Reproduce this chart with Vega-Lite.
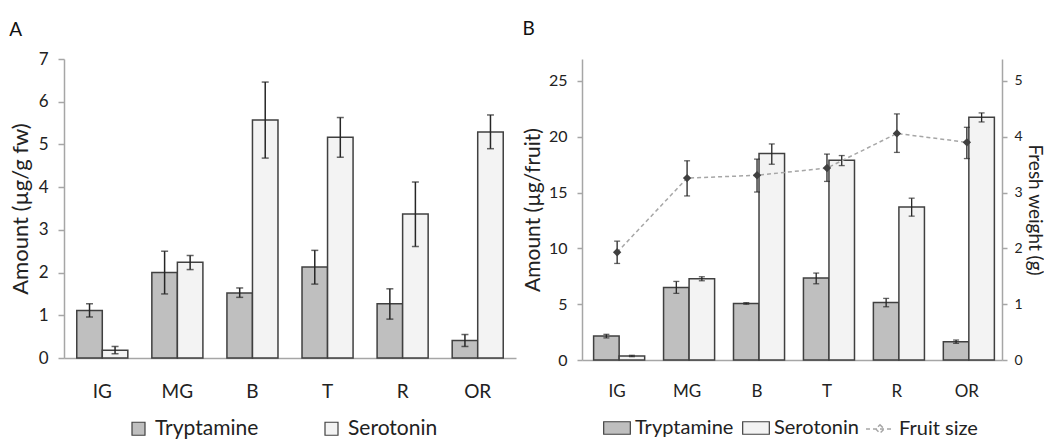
{
  "$schema": "https://vega.github.io/schema/vega-lite/v6.json",
  "background": "white",
  "padding": {"left": 9, "top": 20, "right": 0, "bottom": 0},
  "config": {
    "font": "Lato",
    "view": {"stroke": null},
    "axis": {"labelFont": "Lato", "titleFont": "Lato", "labelColor": "#222222", "titleColor": "#222222", "titleFontWeight": "normal", "grid": false, "domainColor": "#a6a6a6", "tickColor": "#a6a6a6", "domainWidth": 1.5, "tickWidth": 1.5},
    "legend": {"labelFont": "Lato", "labelColor": "#222222"},
    "title": {"font": "Lato", "fontWeight": "normal", "color": "#111111"}
  },
  "datasets": {
    "A": [
      {"stage": "IG", "compound": "Tryptamine", "value": 1.11, "lo": 0.96, "hi": 1.27},
      {"stage": "IG", "compound": "Serotonin", "value": 0.18, "lo": 0.10, "hi": 0.27},
      {"stage": "MG", "compound": "Tryptamine", "value": 2.0, "lo": 1.5, "hi": 2.5},
      {"stage": "MG", "compound": "Serotonin", "value": 2.24, "lo": 2.07, "hi": 2.4},
      {"stage": "B", "compound": "Tryptamine", "value": 1.52, "lo": 1.42, "hi": 1.64},
      {"stage": "B", "compound": "Serotonin", "value": 5.57, "lo": 4.68, "hi": 6.46},
      {"stage": "T", "compound": "Tryptamine", "value": 2.13, "lo": 1.73, "hi": 2.52},
      {"stage": "T", "compound": "Serotonin", "value": 5.17, "lo": 4.7, "hi": 5.63},
      {"stage": "R", "compound": "Tryptamine", "value": 1.27, "lo": 0.91, "hi": 1.62},
      {"stage": "R", "compound": "Serotonin", "value": 3.37, "lo": 2.61, "hi": 4.12},
      {"stage": "OR", "compound": "Tryptamine", "value": 0.41, "lo": 0.27, "hi": 0.55},
      {"stage": "OR", "compound": "Serotonin", "value": 5.29, "lo": 4.9, "hi": 5.69}
    ],
    "B": [
      {"stage": "IG", "compound": "Tryptamine", "value": 2.15, "lo": 1.98, "hi": 2.3},
      {"stage": "IG", "compound": "Serotonin", "value": 0.36, "lo": 0.3, "hi": 0.42},
      {"stage": "MG", "compound": "Tryptamine", "value": 6.5, "lo": 5.97, "hi": 7.04},
      {"stage": "MG", "compound": "Serotonin", "value": 7.28, "lo": 7.1, "hi": 7.46},
      {"stage": "B", "compound": "Tryptamine", "value": 5.07, "lo": 5.0, "hi": 5.14},
      {"stage": "B", "compound": "Serotonin", "value": 18.5, "lo": 17.54, "hi": 19.36},
      {"stage": "T", "compound": "Tryptamine", "value": 7.34, "lo": 6.83, "hi": 7.79},
      {"stage": "T", "compound": "Serotonin", "value": 17.9, "lo": 17.42, "hi": 18.32},
      {"stage": "R", "compound": "Tryptamine", "value": 5.16, "lo": 4.77, "hi": 5.52},
      {"stage": "R", "compound": "Serotonin", "value": 13.72, "lo": 12.89, "hi": 14.5},
      {"stage": "OR", "compound": "Tryptamine", "value": 1.64, "lo": 1.49, "hi": 1.79},
      {"stage": "OR", "compound": "Serotonin", "value": 21.75, "lo": 21.33, "hi": 22.14}
    ],
    "fruit": [
      {"stage": "IG", "series": "Fruit size", "weight": 1.93, "lo": 1.73, "hi": 2.13},
      {"stage": "MG", "series": "Fruit size", "weight": 3.26, "lo": 2.94, "hi": 3.57},
      {"stage": "B", "series": "Fruit size", "weight": 3.31, "lo": 3.01, "hi": 3.6},
      {"stage": "T", "series": "Fruit size", "weight": 3.44, "lo": 3.2, "hi": 3.69},
      {"stage": "R", "series": "Fruit size", "weight": 4.06, "lo": 3.72, "hi": 4.41},
      {"stage": "OR", "series": "Fruit size", "weight": 3.9, "lo": 3.61, "hi": 4.17}
    ]
  },
  "spacing": 6,
  "resolve": {"scale": {"fill": "independent", "strokeDash": "independent", "x": "independent", "y": "independent"}, "legend": {"fill": "independent", "strokeDash": "independent"}},
  "hconcat": [
    {
      "title": {"text": "A", "anchor": "start", "frame": "bounds", "fontSize": 19, "offset": 10},
      "width": 452,
      "height": 299,
      "data": {"name": "A"},
      "encoding": {
        "x": {"field": "stage", "type": "nominal", "sort": ["IG", "MG", "B", "T", "R", "OR"], "scale": {"paddingInner": 0.32, "paddingOuter": 0.17}, "axis": {"title": null, "labelAngle": 0, "ticks": false, "labelFontSize": 19, "labelPadding": 24}},
        "xOffset": {"field": "compound", "type": "nominal", "sort": ["Tryptamine", "Serotonin"], "scale": {"paddingInner": 0, "paddingOuter": 0}}
      },
      "layer": [
        {
          "mark": {"type": "bar", "stroke": "#404040", "strokeWidth": 1.5},
          "encoding": {
            "y": {"field": "value", "type": "quantitative", "scale": {"domain": [0, 7], "nice": false}, "axis": {"title": "Amount  (µg/g fw)", "values": [0, 1, 2, 3, 4, 5, 6, 7], "labelFontSize": 17, "titleFontSize": 22, "tickSize": 6, "labelPadding": 10, "titlePadding": 6}},
            "fill": {"field": "compound", "type": "nominal", "scale": {"domain": ["Tryptamine", "Serotonin"], "range": ["#bfbfbf", "#f3f3f3"]}, "legend": {"title": null, "orient": "none", "direction": "horizontal", "legendX": 64, "legendY": 359, "symbolType": "square", "symbolSize": 169, "symbolStrokeColor": "#404040", "symbolStrokeWidth": 1.2, "labelFontSize": 21, "labelOffset": 6, "columnPadding": 62}}
          }
        },
        {
          "mark": {"type": "rule", "color": "#262626", "strokeWidth": 1.5},
          "encoding": {
            "y": {"field": "lo", "type": "quantitative"},
            "y2": {"field": "hi"}
          }
        },
        {
          "mark": {"type": "tick", "color": "#262626", "size": 7, "thickness": 1.5},
          "encoding": {
            "y": {"field": "lo", "type": "quantitative"}
          }
        },
        {
          "mark": {"type": "tick", "color": "#262626", "size": 7, "thickness": 1.5},
          "encoding": {
            "y": {"field": "hi", "type": "quantitative"}
          }
        }
      ]
    },
    {
      "title": {"text": "B", "anchor": "start", "frame": "bounds", "fontSize": 19, "offset": 20},
      "width": 420,
      "height": 301,
      "resolve": {"scale": {"y": "independent"}},
      "encoding": {
        "x": {"field": "stage", "type": "nominal", "sort": ["IG", "MG", "B", "T", "R", "OR"], "scale": {"paddingInner": 0.327, "paddingOuter": 0.166}, "axis": {"title": null, "labelAngle": 0, "ticks": false, "labelFontSize": 17, "labelPadding": 23}}
      },
      "layer": [
        {
          "data": {"name": "B"},
          "encoding": {
            "xOffset": {"field": "compound", "type": "nominal", "sort": ["Tryptamine", "Serotonin"], "scale": {"paddingInner": 0, "paddingOuter": 0}}
          },
          "layer": [
            {
              "mark": {"type": "bar", "stroke": "#404040", "strokeWidth": 1.5},
              "encoding": {
                "y": {"field": "value", "type": "quantitative", "scale": {"domain": [0, 26.971], "nice": false}, "axis": {"title": "Amount  (µg/fruit)", "values": [0, 5, 10, 15, 20, 25], "format": "d", "labelFontSize": 16, "titleFontSize": 21, "tickSize": 5, "labelPadding": 10, "titlePadding": 5}},
                "fill": {"field": "compound", "type": "nominal", "scale": {"domain": ["Tryptamine", "Serotonin"], "range": ["#bfbfbf", "#f3f3f3"]}, "legend": {"title": null, "orient": "none", "direction": "horizontal", "legendX": 21, "legendY": 355, "symbolType": "M-1,-0.47L1,-0.47L1,0.47L-1,0.47Z", "symbolSize": 710, "symbolStrokeColor": "#404040", "symbolStrokeWidth": 1.2, "labelFontSize": 20, "labelOffset": 4, "columnPadding": 6}}
              }
            },
            {
              "mark": {"type": "rule", "color": "#262626", "strokeWidth": 1.3},
              "encoding": {
                "y": {"field": "lo", "type": "quantitative"},
                "y2": {"field": "hi"}
              }
            },
            {
              "mark": {"type": "tick", "color": "#262626", "size": 6, "thickness": 1.3},
              "encoding": {
                "y": {"field": "lo", "type": "quantitative"}
              }
            },
            {
              "mark": {"type": "tick", "color": "#262626", "size": 6, "thickness": 1.3},
              "encoding": {
                "y": {"field": "hi", "type": "quantitative"}
              }
            }
          ]
        },
        {
          "data": {"name": "fruit"},
          "layer": [
            {
              "mark": {"type": "line", "color": "#a6a6a6", "strokeWidth": 1.5},
              "encoding": {
                "y": {"field": "weight", "type": "quantitative", "scale": {"domain": [0, 5.394], "nice": false}, "axis": {"orient": "right", "title": "Fresh weight (g)", "values": [0, 1, 2, 3, 4, 5], "format": "d", "labelFontSize": 14, "titleFontSize": 19, "tickSize": 5, "labelPadding": 7, "titlePadding": 2}},
                "strokeDash": {"field": "series", "type": "nominal", "scale": {"range": [[4, 3]]}, "legend": {"title": null, "orient": "none", "direction": "horizontal", "legendX": 283, "legendY": 355, "symbolType": "M-1,0L1,0M0,-0.3L0.3,0L0,0.3L-0.3,0Z", "symbolSize": 784, "labelFontSize": 20, "labelOffset": 4, "encode": {"symbols": {"update": {"fill": {"value": "#404040"}, "stroke": {"value": "#8c8c8c"}, "strokeWidth": {"value": 1.3}}}}}}
              }
            },
            {
              "mark": {"type": "rule", "color": "#262626", "strokeWidth": 1.3},
              "encoding": {
                "y": {"field": "lo", "type": "quantitative"},
                "y2": {"field": "hi"}
              }
            },
            {
              "mark": {"type": "tick", "color": "#262626", "size": 6, "thickness": 1.3},
              "encoding": {
                "y": {"field": "lo", "type": "quantitative"}
              }
            },
            {
              "mark": {"type": "tick", "color": "#262626", "size": 6, "thickness": 1.3},
              "encoding": {
                "y": {"field": "hi", "type": "quantitative"}
              }
            },
            {
              "mark": {"type": "point", "shape": "diamond", "filled": true, "color": "#404040", "size": 70, "opacity": 1},
              "encoding": {
                "y": {"field": "weight", "type": "quantitative"}
              }
            }
          ]
        }
      ]
    }
  ]
}
